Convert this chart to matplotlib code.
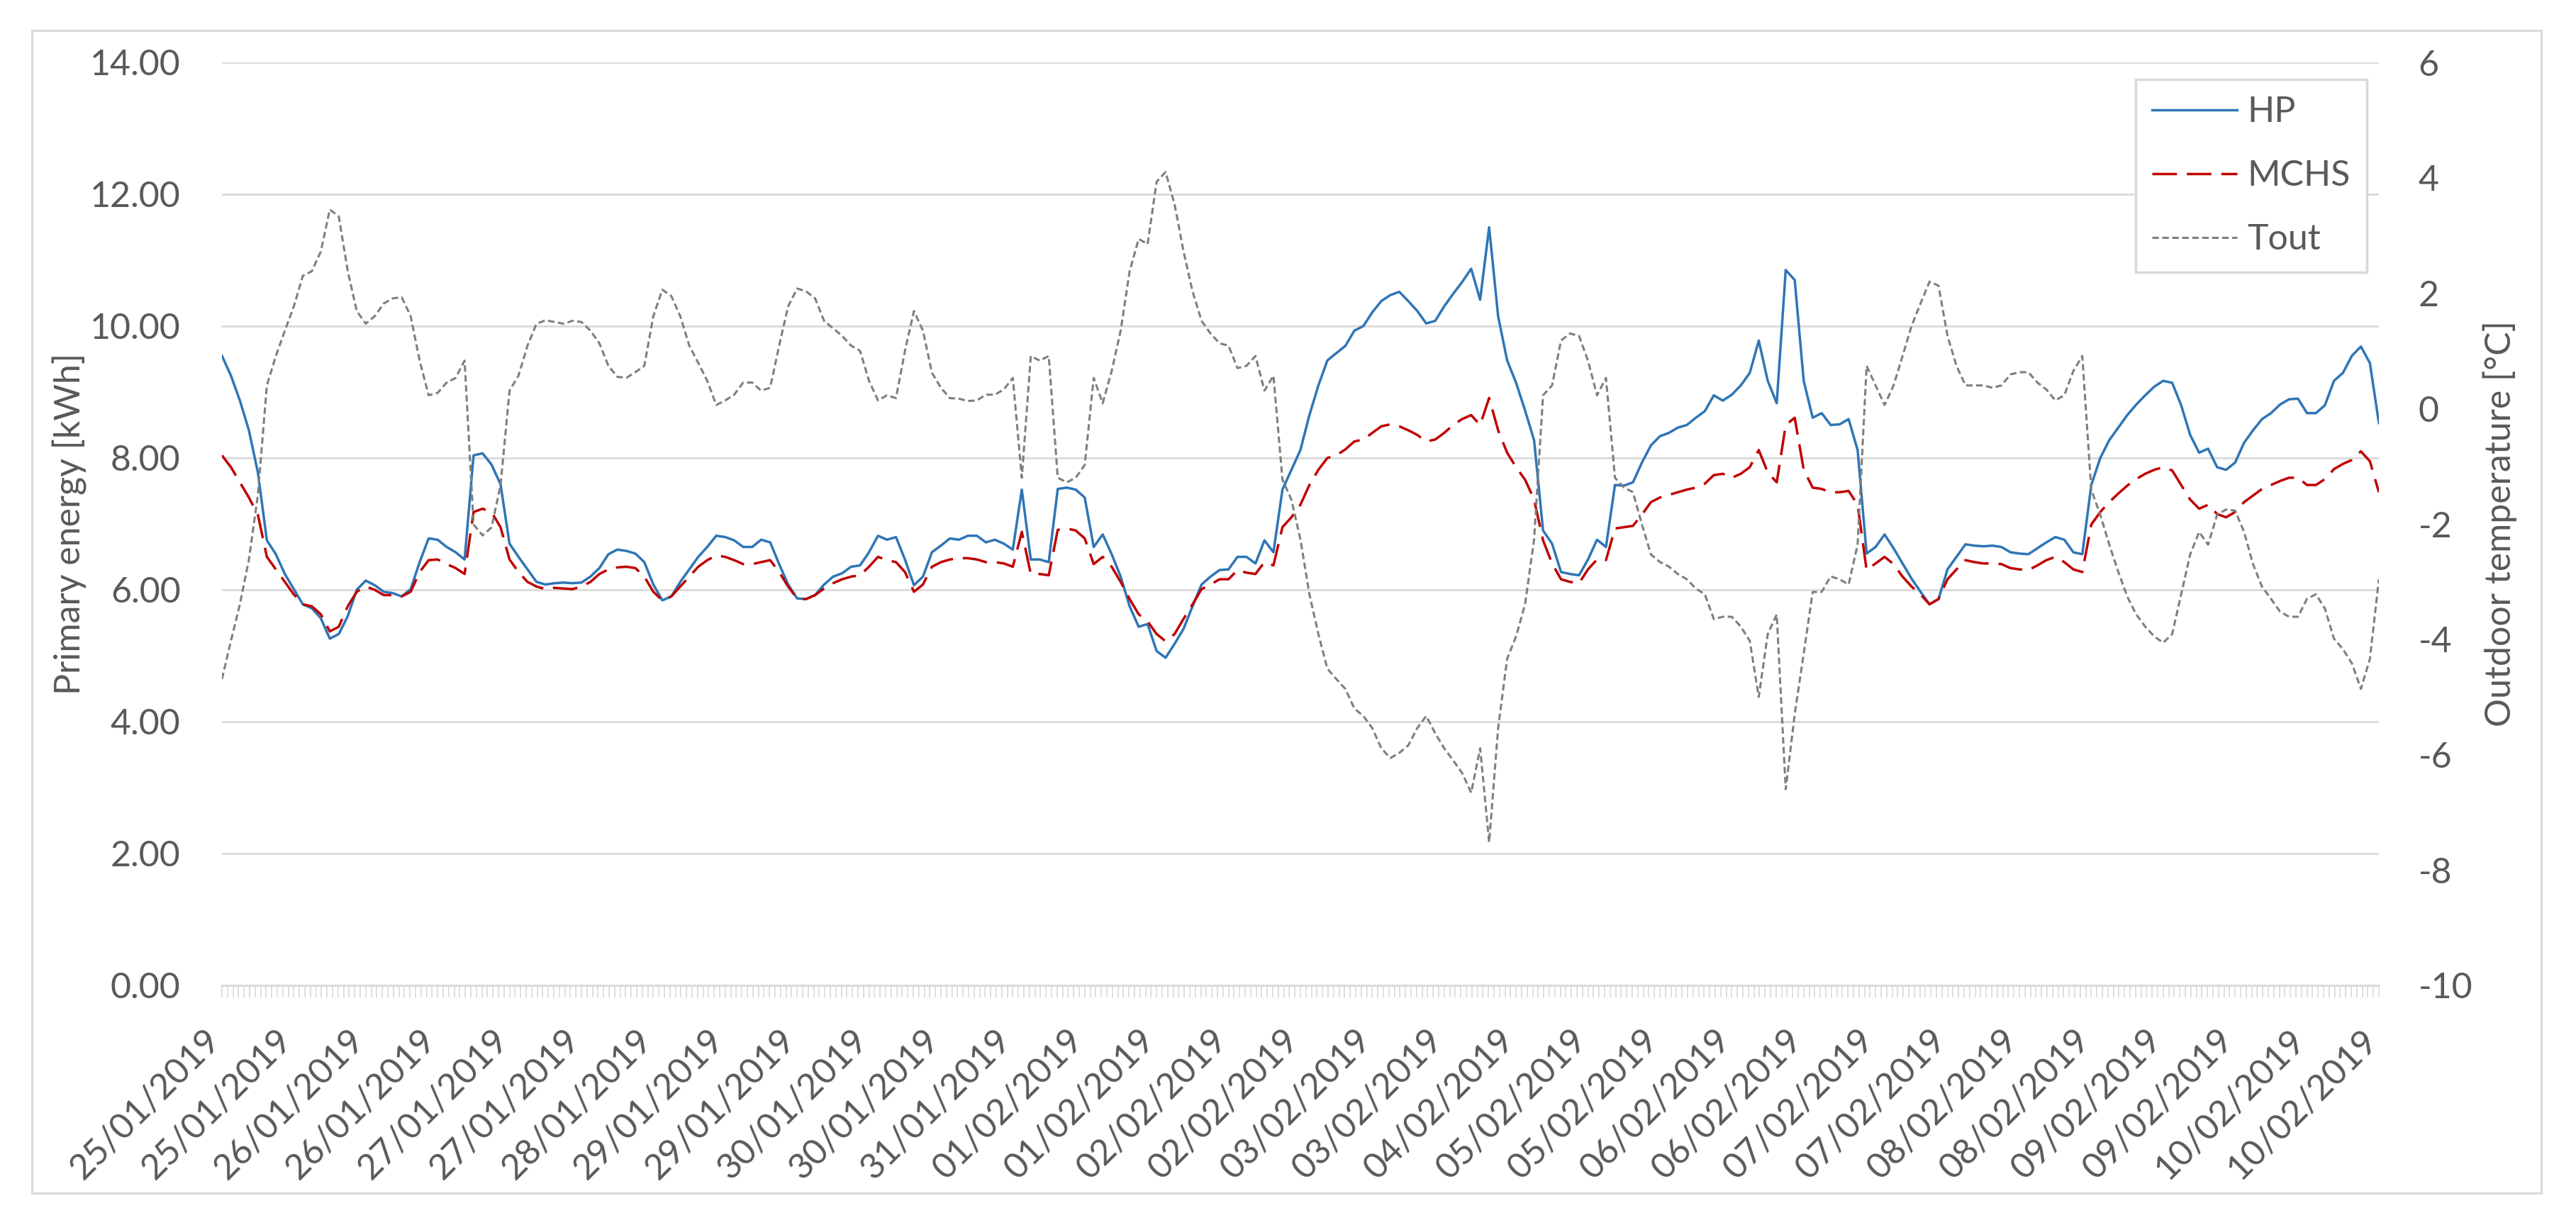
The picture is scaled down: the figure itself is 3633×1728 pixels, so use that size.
import matplotlib
matplotlib.use("Agg")
import matplotlib.pyplot as plt
import numpy as np
from matplotlib.patches import Rectangle
from matplotlib.lines import Line2D

# ── data (8 samples per label interval) ──────────────────────────────────────
date_labels = [
    "25/01/2019", "25/01/2019", "26/01/2019", "26/01/2019", "27/01/2019",
    "27/01/2019", "28/01/2019", "29/01/2019", "29/01/2019", "30/01/2019",
    "30/01/2019", "31/01/2019", "01/02/2019", "01/02/2019", "02/02/2019",
    "02/02/2019", "03/02/2019", "03/02/2019", "04/02/2019", "05/02/2019",
    "05/02/2019", "06/02/2019", "06/02/2019", "07/02/2019", "07/02/2019",
    "08/02/2019", "08/02/2019", "09/02/2019", "09/02/2019", "10/02/2019",
    "10/02/2019",
]

hp = [
    9.55, 9.25, 8.87, 8.42, 7.78, 6.75, 6.54, 6.24, 6.01, 5.78,
    5.72, 5.57, 5.26, 5.33, 5.60, 6.00, 6.14, 6.07, 5.97, 5.95,
    5.90, 6.01, 6.42, 6.78, 6.76, 6.65, 6.57, 6.46, 8.04, 8.07,
    7.90, 7.60, 6.70, 6.50, 6.31, 6.12, 6.08, 6.10, 6.11, 6.10,
    6.11, 6.20, 6.33, 6.54, 6.61, 6.59, 6.55, 6.42, 6.08, 5.84,
    5.90, 6.12, 6.31, 6.50, 6.65, 6.82,
    6.80, 6.75, 6.65, 6.65, 6.76, 6.72, 6.39, 6.08, 5.87, 5.86,
    5.92, 6.08, 6.20, 6.25, 6.35, 6.37, 6.57, 6.82, 6.76, 6.80,
    6.46, 6.07, 6.20, 6.57, 6.67, 6.78, 6.76, 6.82, 6.82, 6.72,
    6.76, 6.70, 6.61, 7.52, 6.46, 6.46, 6.42, 7.53, 7.55, 7.52,
    7.40, 6.65, 6.84, 6.54, 6.20, 5.75, 5.44, 5.48, 5.07, 4.97,
    5.18, 5.41, 5.75, 6.08, 6.20, 6.30,
    6.31, 6.50, 6.50, 6.40, 6.75, 6.57, 7.52, 7.82, 8.12, 8.65,
    9.10, 9.48, 9.59, 9.70, 9.93, 10.00, 10.21, 10.38, 10.47, 10.52,
    10.38, 10.23, 10.04, 10.08, 10.30, 10.49, 10.67, 10.87, 10.40, 11.50,
    10.15, 9.48, 9.14, 8.72, 8.27, 6.90, 6.70, 6.27, 6.24, 6.22,
    6.46, 6.76, 6.65, 7.59, 7.58, 7.63, 7.93, 8.19, 8.33, 8.38,
    8.46, 8.50, 8.61, 8.71, 8.95, 8.87,
    8.96, 9.10, 9.29, 9.78, 9.17, 8.83, 10.85, 10.70, 9.17, 8.61,
    8.68, 8.50, 8.51, 8.59, 8.12, 6.55, 6.65, 6.84, 6.63, 6.40,
    6.17, 5.97, 5.78, 5.86, 6.31, 6.50, 6.69, 6.67, 6.66, 6.67,
    6.65, 6.57, 6.55, 6.54, 6.63, 6.72, 6.80, 6.76, 6.57, 6.54,
    7.59, 8.00, 8.27, 8.46, 8.65, 8.81, 8.95, 9.08, 9.17, 9.14,
    8.80, 8.35, 8.08, 8.14, 7.86, 7.82,
    7.93, 8.23, 8.42, 8.59, 8.68, 8.81, 8.89, 8.90, 8.68, 8.68,
    8.80, 9.17, 9.29, 9.55, 9.69, 9.44, 8.53,
]

mchs = [
    8.04, 7.86, 7.63, 7.40, 7.14, 6.50, 6.31, 6.12, 5.93, 5.78,
    5.75, 5.63, 5.37, 5.44, 5.75, 5.97, 6.05, 6.00, 5.92, 5.92,
    5.90, 5.97, 6.27, 6.45, 6.46, 6.39, 6.33, 6.24, 7.18, 7.23,
    7.18, 6.95, 6.46, 6.27, 6.12, 6.05, 6.01, 6.03, 6.02, 6.01,
    6.05, 6.12, 6.24, 6.31, 6.34, 6.35, 6.33, 6.20, 5.97, 5.84,
    5.90, 6.05, 6.20, 6.35, 6.45, 6.52,
    6.50, 6.45, 6.39, 6.39, 6.42, 6.45, 6.27, 6.05, 5.87, 5.86,
    5.92, 6.02, 6.10, 6.16, 6.20, 6.22, 6.35, 6.50, 6.45, 6.42,
    6.27, 5.97, 6.08, 6.35, 6.42, 6.46, 6.48, 6.48, 6.46, 6.42,
    6.42, 6.40, 6.35, 6.88, 6.24, 6.24, 6.22, 6.91, 6.93, 6.90,
    6.78, 6.39, 6.50, 6.35, 6.12, 5.86, 5.63, 5.52, 5.33, 5.22,
    5.33, 5.56, 5.78, 6.01, 6.08, 6.16,
    6.16, 6.30, 6.26, 6.24, 6.42, 6.37, 6.95, 7.10, 7.29, 7.59,
    7.82, 8.00, 8.04, 8.13, 8.25, 8.28, 8.38, 8.48, 8.51, 8.48,
    8.42, 8.35, 8.25, 8.28, 8.38, 8.50, 8.59, 8.65, 8.50, 8.91,
    8.42, 8.08, 7.86, 7.67, 7.37, 6.75, 6.40, 6.16, 6.12, 6.10,
    6.31, 6.46, 6.45, 6.93, 6.95, 6.97, 7.14, 7.33, 7.40, 7.44,
    7.48, 7.52, 7.55, 7.61, 7.74, 7.76,
    7.70, 7.76, 7.86, 8.12, 7.78, 7.63, 8.50, 8.61, 7.82, 7.55,
    7.53, 7.48, 7.48, 7.50, 7.29, 6.30, 6.40, 6.50, 6.39, 6.20,
    6.05, 5.93, 5.78, 5.86, 6.16, 6.31, 6.45, 6.42, 6.40, 6.40,
    6.39, 6.33, 6.31, 6.30, 6.37, 6.45, 6.50, 6.42, 6.31, 6.27,
    6.99, 7.18, 7.33, 7.46, 7.58, 7.68, 7.76, 7.82, 7.86, 7.81,
    7.59, 7.37, 7.23, 7.29, 7.15, 7.10,
    7.18, 7.33, 7.43, 7.53, 7.59, 7.65, 7.70, 7.70, 7.59, 7.59,
    7.68, 7.83, 7.91, 7.97, 8.10, 7.95, 7.48,
]

tout = [
    -4.69, -4.03, -3.39, -2.62, -1.50, 0.40, 0.91, 1.35, 1.77, 2.30,
    2.38, 2.72, 3.45, 3.33, 2.38, 1.69, 1.47, 1.60, 1.82, 1.91,
    1.93, 1.60, 0.83, 0.23, 0.27, 0.45, 0.53, 0.83, -2.01, -2.20,
    -2.06, -1.33, 0.31, 0.57, 1.09, 1.47, 1.53, 1.50, 1.47, 1.52,
    1.50, 1.35, 1.13, 0.74, 0.55, 0.53, 0.63, 0.74, 1.60, 2.06,
    1.95, 1.60, 1.09, 0.79, 0.48, 0.06,
    0.14, 0.24, 0.45, 0.45, 0.31, 0.36, 1.09, 1.77, 2.08, 2.03,
    1.91, 1.52, 1.39, 1.26, 1.09, 1.00, 0.48, 0.14, 0.23, 0.18,
    1.00, 1.69, 1.35, 0.62, 0.36, 0.18, 0.17, 0.13, 0.14, 0.24,
    0.24, 0.33, 0.53, -1.20, 0.91, 0.83, 0.91, -1.20, -1.28, -1.20,
    -0.98, 0.53, 0.09, 0.65, 1.35, 2.38, 2.94, 2.85, 3.93, 4.10,
    3.54, 2.72, 2.03, 1.52, 1.30, 1.13,
    1.09, 0.70, 0.74, 0.91, 0.31, 0.57, -1.23, -1.58, -2.27, -3.22,
    -3.91, -4.51, -4.69, -4.86, -5.20, -5.33, -5.54, -5.89, -6.06, -5.97,
    -5.84, -5.54, -5.33, -5.63, -5.89, -6.10, -6.32, -6.66, -5.89, -7.52,
    -5.54, -4.34, -3.95, -3.39, -2.27, 0.23, 0.40, 1.18, 1.30, 1.26,
    0.83, 0.23, 0.53, -1.20, -1.37, -1.45, -2.01, -2.53, -2.66, -2.74,
    -2.87, -2.96, -3.12, -3.22, -3.65, -3.61,
    -3.61, -3.78, -4.03, -5.00, -3.91, -3.57, -6.60, -5.30, -4.25, -3.18,
    -3.18, -2.91, -2.96, -3.05, -2.36, 0.74, 0.40, 0.06, 0.40, 0.91,
    1.43, 1.82, 2.20, 2.13, 1.26, 0.74, 0.40, 0.40, 0.40, 0.36,
    0.40, 0.59, 0.63, 0.63, 0.45, 0.33, 0.14, 0.23, 0.65, 0.91,
    -1.41, -1.84, -2.36, -2.83, -3.26, -3.57, -3.78, -3.95, -4.06, -3.91,
    -3.22, -2.53, -2.14, -2.36, -1.84, -1.75,
    -1.77, -2.14, -2.70, -3.09, -3.30, -3.52, -3.61, -3.61, -3.30, -3.22,
    -3.47, -3.99, -4.17, -4.42, -4.86, -4.34, -2.96,
]

energy_ticks = [0, 2, 4, 6, 8, 10, 12, 14]
temp_ticks = [-10, -8, -6, -4, -2, 0, 2, 4, 6]

N_CAT = 391        # hourly categories on the x axis
LABEL_EVERY = 13   # one date label every 13 categories

# ── styling ──────────────────────────────────────────────────────────────────
plt.rcParams['font.family'] = ['Lato', 'DejaVu Sans']
TXT = '#595959'
GRID = '#D9D9D9'
FS = 36
W, H = 3633, 1728

fig = plt.figure(figsize=(W / 100, H / 100), dpi=100)
fig.patch.set_facecolor('white')
ax = fig.add_axes([313 / W, 1 - 1390 / H, (3355 - 313) / W, (1390 - 88) / H])
ax2 = ax.twinx()

x = np.linspace(0, N_CAT - 1, len(hp))
l_hp, = ax.plot(x, hp, color='#2E75B6', lw=2.5, label='HP', zorder=3)
l_mchs, = ax.plot(x, mchs, color='#C00000', lw=2.5, dashes=(10, 4), label='MCHS', zorder=3)
l_tout, = ax2.plot(x, tout, color='#7F7F7F', lw=2.2, dashes=(3, 1.6), label='Tout')

# primary axis
ax.set_xlim(0, N_CAT - 1)
ax.set_ylim(0, 14)
ax.set_yticks(energy_ticks)
ax.set_yticklabels([f"{v:.2f}" for v in energy_ticks])
ax.yaxis.grid(True, color=GRID, lw=2)
ax.set_axisbelow(True)
for s in ('top', 'right', 'left'):
    ax.spines[s].set_visible(False)
ax.spines['bottom'].set_color(GRID)
ax.spines['bottom'].set_linewidth(2)
ax.tick_params(axis='y', length=0, pad=42, labelsize=FS, labelcolor=TXT)

major = np.arange(0, N_CAT, LABEL_EVERY)
ax.set_xticks(major, date_labels, rotation=45, ha='right', va='baseline',
              rotation_mode='anchor')
ax.set_xticks(np.arange(N_CAT), minor=True)
ax.tick_params(axis='x', which='both', direction='out', length=12, width=1.2,
               color=GRID)
ax.tick_params(axis='x', which='major', labelsize=FS, labelcolor=TXT, pad=45)

# secondary axis
ax2.set_ylim(-10, 6)
ax2.set_yticks(temp_ticks)
ax2.set_yticklabels([str(v) for v in temp_ticks])
for s in ax2.spines.values():
    s.set_visible(False)
ax2.tick_params(axis='y', length=0, pad=40, labelsize=FS, labelcolor=TXT)

# axis titles
fig.text(98 / W, 1 - 739 / H, "Primary energy [kWh]", rotation=90,
         ha='center', va='center', fontsize=FS, color=TXT)
fig.text(3526 / W, 1 - 739 / H, "Outdoor temperature [°C]", rotation=90,
         ha='center', va='center', fontsize=FS, color=TXT)

# legend
leg = ax2.legend([l_hp, l_mchs, l_tout], ['HP', 'MCHS', 'Tout'],
                 loc='upper right', bbox_to_anchor=(3338 / W, 1 - 112 / H),
                 bbox_transform=fig.transFigure, frameon=True, fancybox=False,
                 edgecolor=GRID, framealpha=1, fontsize=FS, labelcolor=TXT,
                 handlelength=2.4, handletextpad=0.3, labelspacing=0.88,
                 borderpad=0.46, borderaxespad=0)
leg.get_frame().set_linewidth(2.5)

# chart border
fig.patches.append(Rectangle((45 / W, 1 - 1683 / H), (3584 - 45) / W, (1683 - 43) / H,
                             transform=fig.transFigure, fill=False,
                             edgecolor=GRID, lw=2.2))

fig.savefig('out.png', dpi=100, facecolor='white')
plt.close(fig)
